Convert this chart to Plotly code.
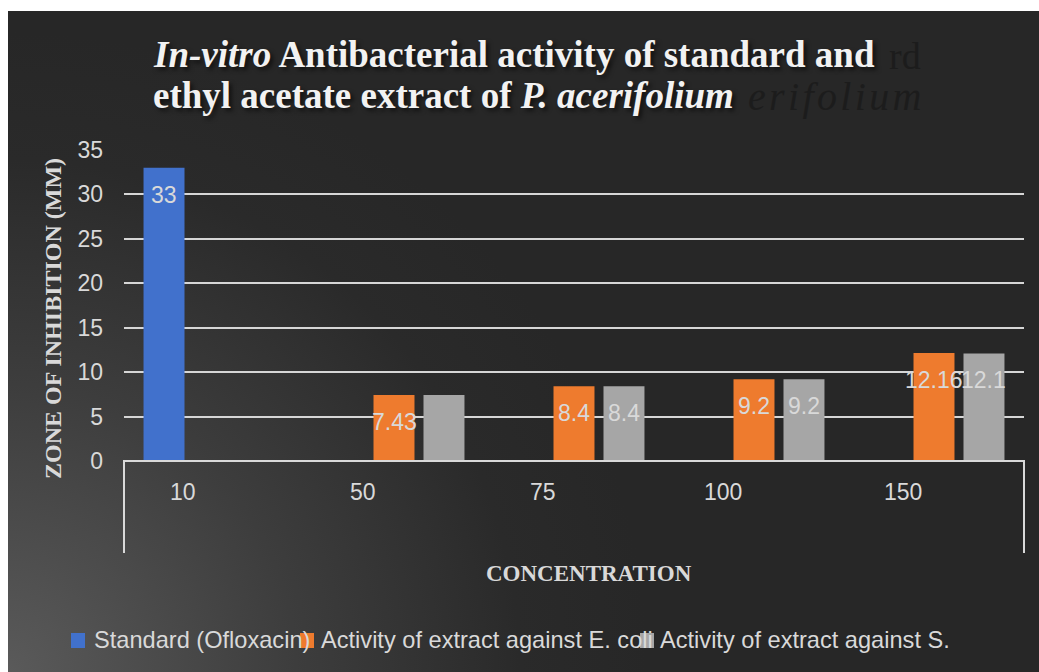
import base64
import plotly.graph_objects as go

# ---- data -------------------------------------------------------------
concentrations = ["10", "50", "75", "100", "150"]
standard_vals = [33, None, None, None, None]
ecoli_vals = [None, 7.43, 8.4, 9.2, 12.16]
saureus_vals = [None, 7.43, 8.4, 9.2, 12.1]
standard_labels = ["33", "", "", "", ""]
ecoli_labels = ["", "7.43", "8.4", "9.2", "12.16"]
saureus_labels = ["", "", "8.4", "9.2", "12.1"]

series_names = [
    "Standard (Ofloxacin)",
    "Activity of extract against E. coli",
    "Activity of extract against S.",
]
series_colors = ["#4171cc", "#ee7b2e", "#a6a6a6"]

# ---- geometry ---------------------------------------------------------
W, H = 1039, 672
ML, MR, MT, MB = 124, 15, 150, 211
PW, PH = W - ML - MR, H - MT - MB
BARGAP, BARGROUPGAP = 0.167, 0.18


def fx(px):
    return (px - ML) / PW


def fy(py):
    return (H - MB - py) / PH


TXT = "#d9d9d9"
SANS = "Liberation Sans, Arial, sans-serif"
SERIF = "Liberation Serif, Times New Roman, serif"

fig = go.Figure()
for name, vals, color in zip(series_names,
                             [standard_vals, ecoli_vals, saureus_vals],
                             series_colors):
    fig.add_trace(go.Bar(x=concentrations, y=vals, name=name,
                         marker=dict(color=color, line=dict(width=0)),
                         showlegend=False, hoverinfo="skip"))

# ---- background gradient panel ---------------------------------------
bw, bh = W - 8, H - 11
svg = f'''<svg xmlns="http://www.w3.org/2000/svg" width="{bw}" height="{bh}" viewBox="0 0 {bw} {bh}" preserveAspectRatio="none">
<defs><radialGradient id="g" gradientUnits="userSpaceOnUse" cx="0" cy="{bh}" r="640">
<stop offset="0" stop-color="#5a5a5a"/><stop offset="0.45" stop-color="#3d3d3d"/>
<stop offset="0.8" stop-color="#2a2a2a"/><stop offset="1" stop-color="#272727"/></radialGradient></defs>
<rect width="{bw}" height="{bh}" fill="url(#g)"/></svg>'''
src = "data:image/svg+xml;base64," + base64.b64encode(svg.encode()).decode()

images = [dict(source=src, xref="paper", yref="paper", x=fx(8), y=fy(11),
               sizex=bw / PW, sizey=bh / PH, xanchor="left", yanchor="top",
               sizing="stretch", layer="below")]

annotations = []

# title (with faint ghost copy behind it)
ghost = "#1c1c1c"
annotations.append(dict(text="rd", x=fx(887), y=fy(56), xref="paper", yref="paper",
                        xanchor="left", yanchor="middle", showarrow=False,
                        font=dict(family=SERIF, size=38, color=ghost)))
annotations.append(dict(text="<i>e\u200ar\u200ai\u200af\u200ao\u200al\u200ai\u200au\u200am</i>",
                        x=fx(746), y=fy(97), xref="paper", yref="paper",
                        xanchor="left", yanchor="middle", showarrow=False,
                        font=dict(family=SERIF, size=40, color=ghost)))
title_font = dict(family=SERIF, size=37, color="#f2f2f2", weight="bold",
                  shadow="3px 3px 4px rgba(0,0,0,0.55)")
annotations.append(dict(text="<i>In-vitro</i> Antibacterial activity of standard and",
                        x=fx(151), y=fy(55), xref="paper", yref="paper",
                        xanchor="left", yanchor="middle", showarrow=False, font=title_font))
annotations.append(dict(text="ethyl acetate extract of <i>P. acerifolium</i>",
                        x=fx(151), y=fy(96), xref="paper", yref="paper",
                        xanchor="left", yanchor="middle", showarrow=False, font=title_font))

# axis titles
annotations.append(dict(text="ZONE OF INHIBITION (MM)", x=fx(53), y=fy(319),
                        xref="paper", yref="paper", textangle=-90, showarrow=False,
                        xanchor="center", yanchor="middle",
                        font=dict(family=SERIF, size=24, color=TXT, weight="bold")))
annotations.append(dict(text="CONCENTRATION", x=fx(589), y=fy(573),
                        xref="paper", yref="paper", showarrow=False,
                        xanchor="center", yanchor="middle",
                        font=dict(family=SERIF, size=23, color=TXT, weight="bold")))

# category labels
for i, c in enumerate(concentrations):
    annotations.append(dict(text=c, x=i, y=fy(492), xref="x", yref="paper",
                            xshift=-31, showarrow=False, xanchor="center",
                            yanchor="middle", font=dict(family=SANS, size=23, color=TXT)))

# value labels, inside the bar end
slot = (1 - BARGAP) / 3
for k, (vals, labels) in enumerate([(standard_vals, standard_labels),
                                    (ecoli_vals, ecoli_labels),
                                    (saureus_vals, saureus_labels)]):
    for i, (v, lab) in enumerate(zip(vals, labels)):
        if v is None or not lab:
            continue
        annotations.append(dict(text=lab, x=i + (k - 1) * slot, y=v, xref="x", yref="y",
                                yshift=-27, showarrow=False, xanchor="center",
                                yanchor="middle",
                                font=dict(family=SANS, size=23, color=TXT)))

# legend
legend_pos = [(71, 92), (300, 319), (640, 658)]
shapes = []
for (sx, tx), name, color in zip(legend_pos, series_names, series_colors):
    shapes.append(dict(type="rect", xref="paper", yref="paper",
                       x0=fx(sx), x1=fx(sx + 14), y0=fy(648), y1=fy(633),
                       fillcolor=color, line=dict(width=0), layer="above"))
    annotations.append(dict(text=name, x=fx(tx), y=fy(640), xref="paper", yref="paper",
                            showarrow=False, xanchor="left", yanchor="middle",
                            font=dict(family=SANS, size=23.6, color=TXT)))

# category axis box
shapes.append(dict(type="path", xref="paper", yref="paper",
                   path=f"M {fx(124)} {fy(553)} L {fx(124)} {fy(461)} L {fx(1024)} {fy(461)} L {fx(1024)} {fy(553)}",
                   line=dict(color="#d9d9d9", width=2), layer="above"))

fig.update_layout(
    width=W, height=H,
    margin=dict(l=ML, r=MR, t=MT, b=MB, pad=0),
    paper_bgcolor="white",
    plot_bgcolor="rgba(0,0,0,0)",
    barmode="group", bargap=BARGAP, bargroupgap=BARGROUPGAP,
    showlegend=False,
    images=images,
    annotations=annotations,
    shapes=shapes,
    xaxis=dict(type="category", showticklabels=False, showgrid=False,
               zeroline=False, showline=False, ticks="",
               range=[-0.5, len(concentrations) - 0.5]),
    yaxis=dict(range=[0, 35], dtick=5, showgrid=True, gridcolor="#d6d6d6",
               gridwidth=2, zeroline=False, showline=False, ticks="",
               ticklabelstandoff=20,
               tickfont=dict(family=SANS, size=23, color=TXT)),
)

fig.write_html("out.html")
